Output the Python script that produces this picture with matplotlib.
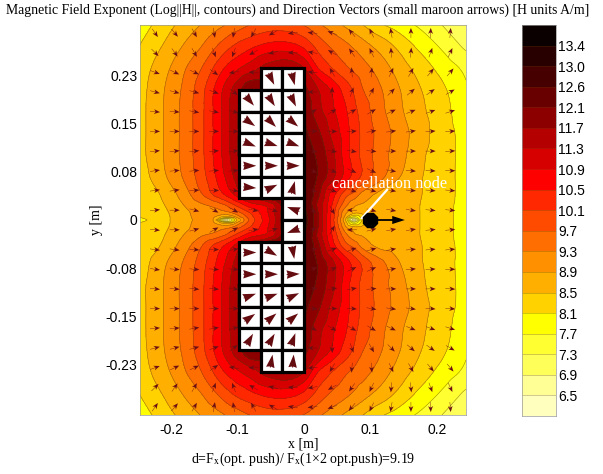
import numpy as np
import matplotlib
matplotlib.use('Agg')
import matplotlib.pyplot as plt
from matplotlib.colors import BoundaryNorm, ListedColormap
from matplotlib.patches import Rectangle
from matplotlib.tri import CubicTriInterpolator, Triangulation, UniformTriRefiner

plt.rcParams['mathtext.fontset'] = 'stix'
SERIF = 'Liberation Serif'
SANS = 'Liberation Sans'

# field samples (upper half, mirrored about y=0)
grid_x = [-0.2466, -0.2241, -0.2015, -0.1789, -0.1564, -0.1368, -0.1188, -0.1008, -0.0812, -0.0511, -0.0211,
          0.0, 0.0211, 0.0421, 0.0617, 0.0752, 0.0887, 0.1143, 0.1444, 0.1744, 0.2045, 0.2436]
grid_y = [0.3028, 0.2717, 0.2360, 0.2034, 0.1693, 0.1351, 0.1009, 0.0668, 0.0388, 0.0233, 0.0109, 0.0047, 0.0]
field_upper = [
    [7.9, 8.15, 8.41, 8.66, 8.9, 9.11, 9.3, 9.49, 9.7, 9.88, 9.85, 9.68, 9.38, 9.1, 8.84, 8.67, 8.5, 8.16, 7.89, 7.63, 7.33, 6.95],
    [8.1, 8.36, 8.64, 8.94, 9.24, 9.57, 9.89, 10.16, 10.36, 10.6, 10.6, 10.37, 9.94, 9.61, 9.39, 9.22, 9.04, 8.73, 8.36, 7.98, 7.65, 7.2],
    [8.27, 8.58, 8.9, 9.27, 9.65, 10.1, 10.52, 10.82, 11.1, 11.5, 11.6, 11.3, 10.5, 10.1, 9.78, 9.6, 9.45, 9.12, 8.7, 8.33, 7.99, 7.6],
    [8.34, 8.68, 9.03, 9.41, 9.9, 10.46, 11.0, 11.5, 12.0, 12.1, 12.1, 11.8, 11.3, 10.82, 10.33, 10.03, 9.7, 9.34, 8.9, 8.52, 8.21, 7.75],
    [8.37, 8.7, 9.06, 9.46, 9.94, 10.5, 11.05, 11.65, 12.1, 12.3, 12.3, 12.0, 11.45, 11.0, 10.57, 10.22, 9.92, 9.43, 8.97, 8.6, 8.29, 7.85],
    [8.37, 8.7, 9.06, 9.46, 9.94, 10.5, 11.05, 11.65, 12.2, 12.5, 12.5, 12.2, 11.78, 11.2, 10.7, 10.3, 10.0, 9.55, 9.1, 8.68, 8.32, 7.95],
    [8.37, 8.7, 9.06, 9.46, 9.94, 10.5, 11.05, 11.65, 12.3, 12.7, 12.7, 12.4, 12.0, 11.43, 10.73, 10.3, 9.98, 9.5, 9.05, 8.6, 8.3, 7.97],
    [8.28, 8.62, 8.98, 9.38, 9.86, 10.38, 10.9, 11.45, 12.0, 12.6, 12.8, 12.5, 12.05, 11.43, 10.75, 10.35, 10.0, 9.43, 8.9, 8.54, 8.28, 7.97],
    [8.22, 8.4, 8.72, 9.12, 9.6, 10.1, 10.5, 11.0, 11.5, 12.2, 12.6, 12.6, 11.8, 10.7, 9.85, 9.54, 9.13, 8.78, 8.65, 8.52, 8.28, 7.97],
    [8.2, 8.35, 8.6, 8.93, 9.22, 9.4, 9.7, 10.2, 10.7, 11.1, 12.2, 12.6, 11.6, 10.5, 9.45, 8.98, 8.85, 8.72, 8.62, 8.5, 8.25, 7.97],
    [8.17, 8.3, 8.52, 8.8, 9.05, 9.1, 9.1, 9.5, 10.1, 11.0, 12.3, 12.7, 11.7, 10.4, 9.0, 8.55, 8.6, 8.7, 8.62, 8.5, 8.25, 7.97],
    [8.12, 8.28, 8.5, 8.78, 9.02, 8.95, 8.3, 9.0, 9.9, 10.95, 12.35, 12.75, 11.7, 10.35, 8.8, 7.6, 8.35, 8.7, 8.62, 8.5, 8.25, 7.97],
    [7.9, 8.28, 8.5, 8.75, 9.0, 8.9, 6.3, 8.5, 9.8, 10.9, 12.4, 12.8, 11.7, 10.3, 8.6, 6.3, 8.2, 8.7, 8.62, 8.5, 8.25, 7.97],
]

# contour levels and band colours, bottom to top of the colour bar
levels = [6.1, 6.5, 6.9, 7.3, 7.7, 8.1, 8.5, 8.9, 9.3, 9.7, 10.1, 10.5, 10.9, 11.3, 11.7, 12.1, 12.6, 13.0, 13.4, 13.8]
band_colors = ['#ffffbe', '#ffff96', '#ffff5a', '#ffff32', '#ffff00', '#ffd200', '#ffaf00', '#ff9100', '#ff6e00',
               '#ff4b00', '#ff2800', '#ff0000', '#d70000', '#b40000', '#8c0000', '#690000', '#460000', '#280000', '#0a0000']

# small field arrows (degrees), upper half, mirrored about y=0
arrow_x = [-0.224, -0.1944, -0.1648, -0.1352, -0.1056, -0.076, -0.0464, -0.0168, 0.0128, 0.0424, 0.072, 0.1016,
           0.1312, 0.1608, 0.1904, 0.22]
arrow_y = [0.2905, 0.26, 0.2294, 0.1988, 0.1682, 0.1376, 0.107, 0.0765, 0.0459, 0.0153]
arrow_angle = [
    [-55, -50, -60, -80, -100, -120, -150, -170, 175, 160, 130, 115, 100, 90, 88, 85],
    [-45, -55, -60, -70, -110, -150, -165, -175, 170, 150, 125, 115, 95, 85, 70, 65],
    [-20, -25, -25, -35, -170, 180, 180, 180, 175, 120, 95, 85, 65, 60, 50, 50],
    [-15, -15, -15, -20, -40, -60, -90, -120, 180, 90, 70, 60, 45, 40, 35, 30],
    [-5, -5, -10, -10, -15, -30, -30, -30, 30, 30, 30, 30, 25, 22, 20, 18],
    [0, 0, 0, 0, 0, -20, -20, 5, 5, 0, 5, 10, 8, 8, 5, 5],
    [5, 5, 5, 5, 5, -10, -10, -10, -10, -10, -10, -5, 0, 0, 0, 3],
    [8, 5, 5, 5, 5, 0, 0, -25, -25, -25, -25, -25, -10, -5, -3, 0],
    [8, 8, 5, 0, -10, -25, -10, -20, -20, -20, -20, -15, -10, -5, -5, -5],
    [5, 0, -15, -30, -30, -10, -20, -30, -40, -60, 180, -15, -10, -8, -5, -5],
]

# magnets: centre x, centre y, direction of the triangle (degrees)
magnet_x = [-0.049, -0.0163,
            -0.0815, -0.049, -0.0163,
            -0.0815, -0.049, -0.0163,
            -0.0815, -0.049, -0.0163,
            -0.0815, -0.049, -0.0163,
            -0.0815, -0.049, -0.0163,
            -0.0163,
            -0.0163,
            -0.0815, -0.049, -0.0163,
            -0.0815, -0.049, -0.0163,
            -0.0815, -0.049, -0.0163,
            -0.0815, -0.049, -0.0163,
            -0.0815, -0.049, -0.0163,
            -0.049, -0.0163]
magnet_y = [0.219, 0.219,
            0.1853, 0.1853, 0.1853,
            0.1516, 0.1516, 0.1516,
            0.1179, 0.1179, 0.1179,
            0.0842, 0.0842, 0.0842,
            0.0505, 0.0505, 0.0505,
            0.0168,
            -0.0168,
            -0.0505, -0.0505, -0.0505,
            -0.0842, -0.0842, -0.0842,
            -0.1179, -0.1179, -0.1179,
            -0.1516, -0.1516, -0.1516,
            -0.1853, -0.1853, -0.1853,
            -0.219, -0.219]
magnet_angle = [-64, -76,
                -50, -58, -64,
                -35, -45, -40,
                -22, -18, -20,
                0, 0, 0,
                -5, 25, 75,
                160,
                200,
                0, -30, -80,
                0, 0, 3,
                20, 20, 25,
                35, 40, 40,
                60, 60, 70,
                80, 85]
magnet_w = 0.0326
magnet_h = 0.0337

# test body and its force arrow
body_x = [0.099]
body_y = [0.0]
force_u = [35]
force_v = [0]

x_ticks = [-0.2, -0.1, 0, 0.1, 0.2]
x_labels = ['-0.2', '-0.1', '0', '0.1', '0.2']
y_ticks = [0.225, 0.15, 0.075, 0, -0.075, -0.15, -0.225]
y_labels = ['0.23', '0.15', '0.08', '0', '-0.08', '-0.15', '-0.23']

W, H = 603, 474
fig = plt.figure(figsize=(W / 100, H / 100), dpi=100)
ax = fig.add_axes([140 / W, 1 - 415 / H, 326 / W, 390 / H])

y_all = np.concatenate([grid_y, -np.array(grid_y[-2::-1])])
field = np.array(field_upper + field_upper[-2::-1])
GX, GY = np.meshgrid(grid_x, y_all)
# library refiner only rounds the contour polygons between the table values
tri = Triangulation(GX.ravel(), GY.ravel())
interp = CubicTriInterpolator(tri, field.ravel(), kind='geom')
tri_fine, field_fine = UniformTriRefiner(tri).refine_field(field.ravel(), triinterpolator=interp, subdiv=3)
cmap = ListedColormap(band_colors)
norm = BoundaryNorm(levels, cmap.N)
ax.tricontourf(tri_fine, field_fine, levels=levels, cmap=cmap, norm=norm, extend='both')
ax.tricontour(tri_fine, field_fine, levels=levels, colors='#5a4010', linewidths=0.4, alpha=0.6)

# small maroon arrows
ax_y = np.concatenate([arrow_y, -np.array(arrow_y[::-1])])
ang = np.array(arrow_angle + [[-a for a in row] for row in arrow_angle[::-1]], dtype=float)
AX, AY = np.meshgrid(arrow_x, ax_y)
ax.quiver(AX, AY, 10 * np.cos(np.radians(ang)), 10 * np.sin(np.radians(ang)), angles='uv', pivot='mid',
          units='dots', scale_units='dots', scale=1, width=0.4, headwidth=12, headlength=15, headaxislength=11,
          color='#6b0f14', zorder=3)

# magnet squares with large triangles
for mx, my in zip(magnet_x, magnet_y):
    ax.add_patch(Rectangle((mx - magnet_w / 2, my - magnet_h / 2), magnet_w, magnet_h, facecolor='white',
                           edgecolor='black', linewidth=2.3, zorder=4))
rad = np.radians(magnet_angle)
ax.quiver(magnet_x, magnet_y, 13 * np.cos(rad), 13 * np.sin(rad), angles='uv', pivot='mid',
          units='dots', scale_units='dots', scale=1, width=1, headwidth=8.5, headlength=13, headaxislength=12,
          color='#640c10', zorder=5)

# cancellation node label and body
ax.plot([0.125, 0.087], [0.047, 0.003], color='white', lw=1.6, zorder=6)
ax.text(0.129, 0.056, 'cancellation node', color='white', fontsize=11.8, family=SERIF, ha='center', va='center', zorder=6)
ax.plot(body_x, body_y, marker='8', ms=11, color='black', zorder=6)
ax.quiver(body_x, body_y, force_u, force_v, angles='uv', pivot='tail', units='dots', scale_units='dots', scale=1,
          width=1.8, headwidth=4.5, headlength=7, headaxislength=7, color='black', zorder=6)

ax.set_xlim(-0.2466, 0.2436)
ax.set_ylim(-0.3028, 0.3028)
ax.set_xticks(x_ticks, x_labels, family=SANS, fontsize=10)
ax.set_yticks(y_ticks, y_labels, family=SANS, fontsize=10)
ax.tick_params(length=0, pad=2)
ax.tick_params(axis='x', pad=6)
for s in ax.spines.values():
    s.set_color('#999999')
    s.set_linewidth(0.5)
ax.set_ylabel('y [m]', family=SERIF, fontsize=10, labelpad=2)
fig.text(303 / W, 1 - 444 / H, 'x [m]', family=SERIF, fontsize=10, ha='center', va='center')
fig.text(303 / W, 1 - 459 / H, r'd=F$_{\mathrm{x}}$(opt. push)/ F$_{\mathrm{x}}$(1×2 opt.push)=9.19',
         family=SERIF, fontsize=10, ha='center', va='center')
fig.text(298 / W, 1 - 10 / H, 'Magnetic Field Exponent (Log||H||, contours) and Direction Vectors (small maroon arrows) [H units A/m]',
         family=SERIF, fontsize=9.95, ha='center', va='center')

# colour bar with equal band heights
cax = fig.add_axes([522 / W, 1 - 416 / H, 34 / W, 391 / H])
edges = np.arange(len(levels))
cax.pcolormesh([0, 1], edges, np.arange(len(band_colors)).reshape(-1, 1), cmap=cmap, shading='flat')
cax.hlines(edges[1:-1], 0, 1, color='#5a4010', lw=0.4, alpha=0.5)
cax.set_xticks([])
cax.yaxis.tick_right()
cax.set_yticks(edges[1:-1], [f'{v:.1f}' for v in levels[1:-1]], family=SANS, fontsize=10)
cax.tick_params(length=0, pad=1.5)
for s in cax.spines.values():
    s.set_color('#999999')
    s.set_linewidth(0.5)

fig.savefig('out.png', dpi=100)
